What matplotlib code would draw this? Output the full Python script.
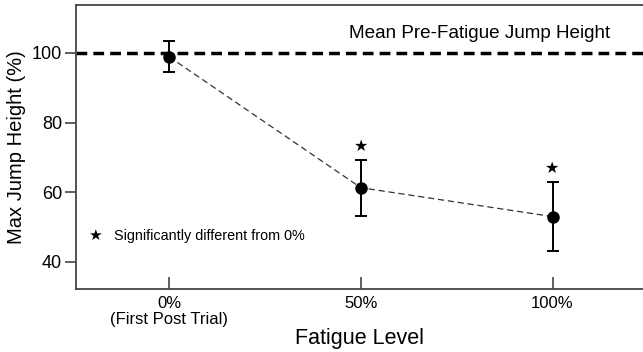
import matplotlib
matplotlib.use("Agg")
import matplotlib.pyplot as plt

plt.rcParams['font.family'] = ['Liberation Sans', 'DejaVu Sans']

# Data
fatigue_levels = [0, 50, 100]
tick_labels = ['0%\n(First Post Trial)', '50%', '100%']
mean_height = [98.9, 61.3, 53.0]
err_height = [4.4, 8.0, 10.0]
significant = [False, True, True]
reference_level = 100
yticks = [40, 60, 80, 100]

fig = plt.figure(figsize=(6.43, 3.52), dpi=100)
ax = fig.add_axes([0.1182, 0.179, 0.8818, 0.807])

ax.axhline(reference_level, color='black', lw=2.5, ls=(0, (3.1, 1.75)), zorder=1)
ax.text(81, 105.6, 'Mean Pre-Fatigue Jump Height', ha='center', va='center', fontsize=13.6)

ax.plot(fatigue_levels, mean_height, color='#333333', lw=0.9, ls=(0, (5, 3)), zorder=2)
ax.errorbar(fatigue_levels, mean_height, yerr=err_height, fmt='o', color='black',
            ms=8, capsize=4.5, elinewidth=1.4, capthick=1.4, zorder=3)

star_font = ['DejaVu Sans']
for x, m, e, s in zip(fatigue_levels, mean_height, err_height, significant):
    if s:
        ax.text(x, m + e + 3.8, '\u2605', ha='center', va='center', fontsize=11.5,
                family=star_font)

ax.text(-19.5, 47.5, '\u2605', ha='center', va='center', fontsize=11, family=star_font)
ax.text(-14.5, 47.5, 'Significantly different from 0%', ha='left', va='center', fontsize=10.4)

ax.set_xlim(-24.3, 123.6)
ax.set_ylim(32.2, 113.8)
ax.set_xticks(fatigue_levels)
ax.set_xticklabels(tick_labels, fontsize=12, linespacing=1.05)
ax.set_yticks(yticks)
ax.set_yticklabels([str(v) for v in yticks], fontsize=13)
ax.tick_params(axis='x', direction='in', length=9, width=1.2, color='#444444', pad=5)
ax.tick_params(axis='y', direction='out', length=8, width=1.2, color='#444444', pad=2)

for side in ['left', 'bottom', 'top']:
    ax.spines[side].set_color('#444444')
    ax.spines[side].set_linewidth(1.3)
ax.spines['right'].set_visible(False)

ax.set_xlabel('Fatigue Level', fontsize=15.5, labelpad=1)
ax.set_ylabel('Max Jump Height (%)', fontsize=14.5, labelpad=4)

fig.savefig('out.png', dpi=100)
